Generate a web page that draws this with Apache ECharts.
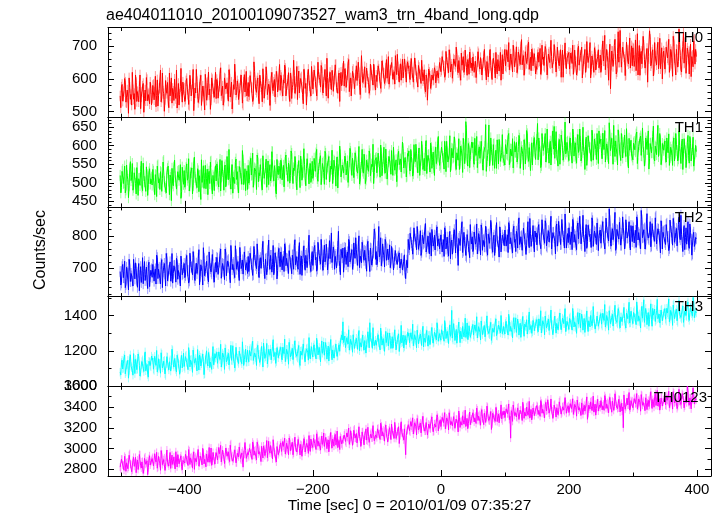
<!DOCTYPE html>
<html><head><meta charset="utf-8">
<script src="https://cdn.jsdelivr.net/npm/echarts@6/dist/echarts.min.js"></script>
<style>html,body{margin:0;padding:0;background:#fff}#c{width:724px;height:516px}</style>
</head><body><div id="c"></div>
<script>
const chartTitle = "ae404011010_20100109073527_wam3_trn_4band_long.qdp";
const xTitle = "Time [sec] 0 = 2010/01/09 07:35:27";
const yTitle = "Counts/sec";
const bandNames = ["TH0", "TH1", "TH2", "TH3", "TH0123"];
const bandColors = ["#ff0000", "#00ff00", "#0000ff", "#00ffff", "#ff00ff"];
// typical 1-sigma error-bar half length of each band (counts/sec), read from the light fringe
const bandErrors = [16, 15, 17, 24, 38];
// two interleaved sets of 1-s bins: set A at t=-501,-499,...,399 ; set B at t=-500,-498,...,398
const binStartA = -501, binStartB = -500, binStep = 2;
const xRange = [-520, 422];
const xMajor = [-400, -200, 0, 200, 400];
const xMinor = [-500, -300, -100, 100, 300];
const yRanges = [[483, 757], [435, 677], [612, 891], [1000, 1508], [2735, 3600]];
const yMajor = [[500, 600, 700], [450, 500, 550, 600, 650], [700, 800], [1000, 1200, 1400], [2800, 3000, 3200, 3400, 3600]];
const yMinorStep = [20, 10, 20, 100, 100];

const th0A = [
548,575,532,561,590,527,544,603,538,520,567,555,612,531,549,577,509,560,586,541,533,598,552,524,570,
541,583,560,515,597,549,572,530,618,555,537,566,589,512,548,603,571,534,559,627,543,520,576,562,590,
572,538,601,553,519,584,566,629,540,557,592,528,575,611,547,563,505,588,550,621,569,536,598,557,581,
540,587,563,616,549,578,532,600,571,553,628,545,590,512,568,606,559,583,537,597,575,520,613,562,548,
589,551,606,573,538,622,567,594,548,611,576,530,598,563,637,552,584,519,605,571,590,545,623,560,581,
565,604,548,587,632,571,596,553,618,540,583,611,569,638,592,557,601,575,524,615,586,562,629,579,548,
606,571,623,588,552,614,597,641,566,590,629,548,604,585,620,567,611,593,643,574,556,618,600,579,632,
578,617,594,648,561,603,586,629,570,612,595,651,583,556,622,600,637,574,609,589,566,627,598,645,581,
611,588,630,603,575,642,617,596,659,608,584,627,650,599,622,671,613,637,590,646,628,603,661,619,640,
632,605,648,619,590,664,627,603,641,615,586,622,600,571,612,535,630,608,583,617,598,625,589,611,602,
648,627,671,639,612,660,633,689,621,645,608,657,638,674,619,650,596,642,668,628,655,611,647,682,634,
625,661,638,604,652,677,630,646,612,669,641,597,655,632,690,618,645,664,603,637,659,624,681,642,615,
671,640,689,652,628,676,661,703,637,666,619,682,655,698,643,671,630,688,659,712,646,625,679,664,650,
638,674,651,693,627,660,641,699,655,617,682,646,668,632,705,653,624,671,640,689,658,605,676,649,663,
661,630,679,647,614,688,652,625,700,641,667,603,655,690,636,672,648,711,629,659,620,683,645,668,634,
673,641,716,655,628,690,649,667,570,685,638,702,660,622,744,651,680,635,697,659,613,688,646,725,664,
640,692,657,625,738,669,611,684,650,703,633,676,590,662,721,648,689,627,670,643,712,658,631,695,666,
679,635,701,658,620,690,647,730,664,612,688,653,705,628,676,742,650,617,694,661,683,607,672,716,645,
668];
const th0B = [
512,583,547,601,529,566,495,574,552,620,538,507,589,561,530,612,545,578,498,566,604,533,557,590,521,
580,536,608,549,517,571,627,542,563,501,595,556,534,618,575,526,562,599,540,511,586,553,632,529,568,
531,594,567,522,611,548,585,503,572,629,556,540,597,519,578,562,614,535,589,551,507,603,570,544,620,
598,541,577,634,556,520,603,569,588,532,615,559,508,582,645,551,594,537,571,612,526,590,560,623,547,
546,610,575,531,652,587,559,603,524,596,568,631,541,585,610,552,577,519,620,564,598,539,607,581,644,
611,562,597,642,548,583,619,531,603,574,657,556,592,537,624,587,606,552,629,571,520,613,595,560,638,
569,627,592,548,651,604,575,634,557,612,588,663,541,607,585,626,562,599,644,573,610,531,620,597,654,
631,574,612,659,586,548,623,601,567,640,596,619,552,671,589,615,574,633,600,556,645,611,581,628,566,
592,640,608,571,655,619,586,633,602,668,590,626,651,612,584,641,675,608,630,596,660,623,644,590,652,
640,598,662,621,584,648,607,575,635,612,657,594,628,560,601,585,620,571,612,596,634,588,624,603,650,
622,668,641,605,684,650,619,673,637,602,661,645,697,628,656,611,679,642,620,688,635,659,614,676,648,
667,620,654,601,683,638,665,612,648,690,627,653,606,672,641,598,663,632,681,615,657,639,596,674,645,
690,636,668,711,642,660,621,685,652,698,630,674,644,720,659,611,683,647,702,629,666,691,640,677,615,
629,681,655,614,703,667,636,690,612,676,650,718,634,662,685,621,697,647,672,605,688,658,710,631,669,
681,624,667,703,635,656,612,690,642,672,697,629,661,620,714,650,681,603,670,641,695,627,659,689,645,
620,690,655,733,628,671,596,706,642,684,660,721,615,678,651,748,636,697,667,610,712,654,687,633,701,
695,638,719,664,612,702,677,646,730,659,627,693,668,747,640,681,609,711,655,690,631,724,662,600,685,
630,697,664,721,641,683,608,716,659,690,636,752,672,621,699,648,727,657,684,615,706,668,637,721,690];

const th1A = [
520,488,536,501,473,548,509,492,557,515,480,527,498,541,466,512,530,489,553,504,477,522,495,538,510,
494,531,468,519,545,500,482,527,511,560,490,473,538,505,521,452,499,542,516,483,530,507,549,476,518,
533,497,551,514,478,526,540,493,569,508,487,532,519,455,501,546,511,484,537,523,498,558,470,515,529,
505,542,489,563,516,531,480,548,507,524,590,498,535,472,520,555,509,487,544,527,496,561,513,479,532,
547,509,566,522,488,540,531,575,503,519,552,481,537,510,564,526,495,549,515,583,505,533,470,528,545,
512,551,527,489,568,536,504,545,520,579,498,533,556,481,541,518,572,507,529,550,492,565,524,539,501,
558,521,547,580,512,539,566,495,552,528,585,509,543,571,518,537,498,561,530,554,486,548,575,516,540,
523,565,538,501,557,584,520,546,512,572,533,555,497,541,590,526,562,508,549,531,578,515,544,498,560,
568,532,557,515,580,541,596,526,552,508,571,545,587,520,559,538,503,576,549,564,527,592,540,555,518,
572,538,590,551,525,567,604,543,579,520,561,588,547,532,614,559,576,529,595,563,541,583,552,607,570,
551,596,570,537,585,612,556,578,530,593,567,624,548,581,561,536,599,575,620,552,665,563,606,541,579,
595,557,620,574,541,588,566,612,549,583,598,531,574,656,561,590,547,605,572,539,594,617,558,582,569,
560,603,578,627,549,591,572,540,611,583,556,598,620,565,587,535,604,576,632,558,590,569,548,612,581,
602,660,621,585,547,608,591,633,570,595,553,612,581,640,652,598,576,545,617,589,625,561,600,578,609,
571,610,588,553,630,597,565,617,582,645,559,601,590,536,623,575,612,594,558,627,586,606,563,598,640,
612,579,634,590,556,605,571,662,587,620,550,598,613,576,643,589,560,617,595,629,571,604,540,588,615,
570,607,589,631,552,598,620,574,648,583,561,612,590,537,606,581,625,566,599,576,655,588,613,562,594,
603,568,621,581,547,596,574,610,559,633,587,565,601,552,618,580,594,541,608,574,625,559,590,545,578,
584];
const th1B = [
473,531,498,545,481,519,460,537,506,552,488,524,470,540,511,493,558,479,520,502,543,466,529,497,515,
536,489,522,463,548,511,530,477,556,503,485,527,545,468,514,539,492,561,505,480,533,518,458,542,496,
488,541,507,565,492,528,470,553,515,499,538,476,521,562,504,485,547,512,468,531,556,494,520,479,546,
551,497,533,478,560,519,542,489,571,508,526,483,549,515,498,564,530,473,545,511,587,495,538,521,482,
499,556,521,580,508,537,482,566,527,549,494,573,512,541,488,559,530,505,584,518,546,476,563,522,539,
561,508,547,492,575,528,553,499,586,519,540,571,503,534,560,487,549,526,592,511,538,564,497,552,520,
512,566,531,590,504,549,573,518,556,496,579,538,561,502,545,588,523,557,491,570,535,599,516,548,527,
572,521,559,505,593,537,566,514,581,545,526,598,508,553,532,577,498,561,539,586,519,550,604,528,565,
527,580,544,602,519,566,538,591,510,557,575,523,548,596,534,562,505,585,551,529,610,540,568,516,579,
586,532,571,518,603,557,580,527,594,548,612,536,566,598,525,574,551,607,539,583,520,596,562,625,547,
542,598,565,612,530,583,556,627,548,591,570,605,536,577,619,552,588,528,603,566,640,545,596,574,610,
609,550,586,625,541,597,568,614,534,580,657,558,593,546,621,575,603,539,588,616,551,599,572,630,561,
548,601,575,633,556,590,619,542,583,609,565,628,539,597,577,616,551,641,570,595,533,608,586,622,563,
617,562,598,541,633,587,610,556,645,579,602,548,624,591,566,638,573,605,550,629,596,571,664,584,612,
560,621,593,645,572,608,553,630,589,612,568,650,581,603,547,627,596,575,642,561,618,590,633,552,606,
618,565,603,641,577,596,552,629,608,586,655,571,613,548,625,594,633,567,608,583,646,559,620,597,575,
562,611,584,637,551,603,626,573,598,545,621,590,640,566,607,582,653,559,595,618,571,633,549,606,588,
613,556,597,632,568,589,547,621,580,604,559,640,575,598,536,619,586,565,628,553,607,579,623,548,601];

const th2A = [
690,655,712,671,640,703,684,728,659,676,645,699,717,663,688,630,705,674,652,721,680,661,709,643,694,
672,710,689,651,733,697,668,715,640,702,683,746,661,694,720,675,654,708,688,731,666,699,645,712,684,
715,678,740,693,661,722,705,752,670,698,684,731,649,711,690,764,677,702,725,658,716,689,743,672,700,
688,731,702,746,669,715,691,760,677,723,703,655,738,712,684,770,697,721,662,734,709,682,751,695,718,
737,694,752,716,681,743,709,776,690,725,700,759,718,668,731,705,788,697,740,712,680,748,720,693,762,
705,748,726,690,763,731,700,755,719,683,742,770,711,736,697,780,724,678,751,715,740,702,766,728,690,
752,713,771,734,698,760,727,790,708,741,720,775,695,748,730,810,712,754,737,701,768,725,680,745,763,
719,762,740,705,783,731,758,712,748,795,726,769,702,744,781,735,756,715,773,739,690,761,722,750,808,
752,721,830,744,708,776,739,790,725,760,736,702,768,745,718,755,730,735,748,702,731,710,742,668,725,
790,758,812,771,745,800,782,830,759,788,740,803,776,822,751,785,766,811,738,797,779,757,818,770,792,
761,802,774,737,815,780,752,796,730,788,764,820,748,781,709,799,772,845,754,786,740,805,768,733,792,
798,760,819,783,745,808,771,835,756,790,767,812,741,794,778,826,750,803,765,842,782,735,811,776,795,
770,814,789,749,831,795,763,820,781,752,806,837,774,798,756,825,790,743,812,785,855,768,800,779,816,
810,771,836,794,757,822,790,848,770,803,782,829,760,811,795,745,838,786,817,774,852,799,763,825,788,
780,823,797,758,841,805,770,830,792,862,776,814,799,752,836,783,820,806,765,848,791,812,774,837,801,
819,781,845,800,763,827,795,885,777,810,789,835,756,821,798,843,772,808,826,760,851,794,816,780,833,
783,826,802,765,850,811,778,880,795,820,760,838,804,789,845,770,815,798,857,776,823,805,748,830,812,
818,774,840,799,762,828,793,855,781,811,770,836,797,865,780,812,758,826,801,772,838,790,745,812,775,
792];
const th2B = [
648,705,671,722,650,689,633,710,684,660,728,667,699,641,715,678,656,733,690,662,704,637,719,675,698,
712,660,698,741,668,703,652,727,689,715,645,731,676,698,660,746,684,709,657,722,693,670,738,680,702,
671,728,692,654,747,703,680,735,662,716,697,758,675,709,648,731,690,722,668,751,699,683,740,657,718,
734,681,719,760,690,712,665,748,703,727,682,771,696,718,671,743,710,688,765,699,726,677,752,708,684,
690,747,712,678,768,725,699,742,671,733,716,784,693,728,680,755,711,740,688,771,702,734,667,749,720,
751,695,737,776,708,729,684,760,715,741,697,789,722,706,753,681,738,712,770,694,746,725,803,703,731,
709,764,726,691,781,740,713,757,694,772,728,749,700,786,735,718,766,697,743,725,815,706,759,733,688,
765,712,751,790,720,744,697,779,731,758,709,801,738,717,770,725,752,691,784,739,763,710,746,822,728,
711,768,736,795,722,751,704,781,742,727,773,716,748,695,740,727,712,738,701,729,695,722,687,710,702,
765,809,780,744,826,791,758,805,772,817,750,795,781,839,762,800,745,788,821,769,803,756,829,784,761,
804,751,789,826,760,797,738,815,779,744,808,786,852,757,793,771,824,749,812,780,735,801,767,836,776,
752,813,775,838,761,799,742,824,787,767,831,754,806,778,849,763,795,740,817,785,770,829,751,803,790,
819,769,804,842,776,796,748,831,790,815,763,857,782,801,755,826,793,772,845,764,809,787,833,751,798,
773,828,790,761,851,805,778,839,766,817,796,862,757,812,784,830,769,846,798,775,822,787,869,763,808,
826,774,813,852,781,800,758,841,795,820,771,865,786,808,762,834,799,781,857,768,816,793,841,755,811,
778,831,795,760,856,812,785,848,769,823,800,874,763,818,791,839,772,860,801,778,826,795,845,757,813,
832,779,818,860,788,806,761,851,797,825,775,870,794,812,767,839,803,784,862,771,821,799,848,760,815,
781,836,798,755,850,815,772,841,793,824,767,859,789,806,752,833,796,775,845,762,812,741,804,768,796];

const th3A = [
1080,1135,1098,1160,1071,1120,1147,1089,1178,1105,1063,1129,1152,1094,1183,1117,1076,1140,1101,1165,1088,1124,1052,1138,1110,
1148,1097,1170,1119,1082,1156,1131,1190,1104,1142,1070,1127,1165,1093,1150,1118,1203,1109,1137,1081,1160,1123,1099,1175,1134,
1112,1168,1135,1094,1182,1149,1120,1205,1131,1158,1087,1146,1177,1115,1163,1139,1071,1154,1128,1191,1106,1145,1168,1122,1185,
1176,1130,1195,1152,1109,1188,1163,1217,1138,1170,1121,1183,1147,1230,1156,1112,1175,1141,1199,1160,1128,1186,1150,1210,1137,
1155,1203,1171,1230,1146,1189,1162,1218,1180,1135,1197,1170,1245,1158,1186,1127,1209,1175,1150,1226,1168,1192,1140,1201,1179,
1204,1162,1221,1185,1140,1210,1178,1249,1166,1195,1151,1232,1188,1170,1212,1131,1199,1176,1240,1160,1193,1217,1148,1183,1205,
1180,1222,1193,1155,1238,1201,1174,1215,1187,1251,1165,1209,1192,1143,1228,1184,1206,1160,1219,1195,1172,1235,1250,1290,1365,
1258,1219,1275,1240,1205,1266,1231,1292,1214,1253,1236,1282,1201,1247,1270,1225,1259,1188,1244,1268,1360,1281,1215,1254,1238,
1232,1277,1245,1206,1288,1257,1223,1270,1248,1303,1229,1261,1242,1215,1284,1253,1236,1275,1197,1262,1246,1290,1225,1258,1271,
1285,1247,1303,1266,1230,1292,1259,1318,1241,1280,1262,1306,1223,1274,1297,1252,1288,1236,1310,1270,1249,1295,1263,1327,1281,
1276,1320,1291,1255,1337,1298,1270,1315,1283,1430,1262,1307,1289,1244,1326,1295,1312,1268,1333,1300,1277,1359,1286,1310,1294,
1330,1290,1347,1311,1274,1338,1305,1370,1293,1322,1280,1355,1317,1299,1342,1260,1328,1306,1364,1287,1320,1346,1302,1335,1314,
1312,1356,1328,1290,1372,1339,1305,1361,1324,1388,1300,1347,1331,1277,1365,1318,1352,1336,1296,1378,1321,1344,1308,1360,1337,
1366,1325,1382,1343,1302,1371,1350,1398,1331,1361,1316,1385,1347,1292,1370,1339,1356,1320,1393,1348,1329,1377,1355,1310,1368,
1340,1384,1359,1318,1402,1365,1333,1390,1352,1415,1328,1376,1361,1305,1389,1347,1371,1336,1408,1356,1380,1324,1365,1399,1350,
1396,1352,1414,1373,1336,1401,1368,1428,1355,1390,1341,1419,1377,1362,1440,1348,1393,1366,1411,1384,1330,1405,1375,1358,1425,
1372,1418,1391,1349,1433,1399,1365,1424,1386,1490,1358,1407,1392,1340,1420,1378,1441,1395,1367,1429,1383,1409,1355,1437,1398,
1421,1380,1442,1405,1366,1430,1398,1460,1383,1417,1371,1449,1408,1390,1435,1362,1426,1401,1465,1388,1419,1445,1397,1480,1412,
1415];
const th3B = [
1065,1148,1102,1177,1081,1124,1046,1159,1113,1090,1185,1072,1133,1097,1168,1058,1121,1150,1084,1195,1108,1067,1142,1118,1171,
1160,1090,1136,1203,1098,1128,1074,1182,1117,1147,1061,1168,1109,1139,1086,1210,1123,1157,1095,1176,1130,1068,1151,1104,1187,
1101,1176,1132,1219,1110,1153,1079,1195,1144,1120,1208,1092,1165,1128,1183,1066,1149,1201,1115,1172,1137,1096,1225,1143,1160,
1193,1122,1169,1238,1131,1178,1096,1210,1150,1187,1113,1232,1145,1166,1104,1221,1160,1129,1199,1142,1252,1118,1181,1137,1205,
1139,1214,1170,1255,1152,1193,1118,1232,1182,1147,1226,1109,1201,1167,1243,1135,1188,1211,1156,1264,1174,1130,1219,1162,1197,
1221,1150,1198,1267,1163,1209,1125,1240,1178,1215,1142,1258,1185,1160,1231,1118,1202,1176,1249,1139,1212,1193,1276,1155,1224,
1166,1235,1191,1272,1178,1220,1139,1257,1203,1176,1248,1154,1228,1196,1265,1150,1211,1182,1239,1169,1221,1198,1270,1262,1248,
1285,1214,1259,1320,1226,1263,1193,1301,1240,1272,1209,1316,1247,1222,1290,1205,1268,1236,1309,1218,1277,1245,1332,1230,1261,
1221,1292,1246,1330,1233,1270,1198,1311,1255,1228,1302,1214,1281,1243,1320,1206,1264,1297,1239,1345,1251,1217,1288,1236,1305,
1301,1239,1280,1352,1251,1289,1218,1327,1266,1296,1231,1340,1273,1249,1316,1227,1290,1262,1333,1244,1307,1278,1360,1255,1298,
1261,1330,1289,1372,1270,1311,1242,1348,1296,1273,1355,1259,1322,1286,1364,1247,1305,1339,1280,1386,1294,1265,1343,1277,1318,
1350,1281,1325,1394,1297,1336,1262,1371,1315,1344,1276,1399,1318,1292,1362,1270,1331,1306,1382,1284,1347,1320,1401,1298,1339,
1296,1368,1325,1408,1311,1349,1274,1389,1333,1305,1381,1290,1357,1322,1396,1283,1341,1377,1318,1421,1328,1300,1373,1315,1355,
1378,1309,1356,1428,1326,1367,1292,1404,1347,1381,1313,1432,1350,1327,1398,1301,1363,1340,1415,1320,1386,1355,1440,1333,1372,
1322,1393,1350,1441,1336,1376,1300,1418,1362,1331,1409,1318,1384,1348,1427,1310,1369,1401,1343,1452,1356,1326,1398,1340,1381,
1412,1341,1386,1463,1352,1397,1318,1434,1374,1408,1337,1459,1378,1353,1425,1331,1393,1369,1447,1346,1415,1383,1476,1359,1404,
1355,1428,1385,1478,1368,1410,1330,1453,1396,1362,1441,1349,1418,1380,1467,1340,1403,1437,1375,1492,1389,1358,1432,1371,1414,
1440,1369,1415,1495,1380,1424,1345,1467,1408,1437,1362,1488,1406,1381,1455,1357,1420,1395,1478,1373,1446,1411,1503,1389,1426];

const th0123A = [
2820,2898,2841,2790,2910,2862,2805,2935,2850,2776,2887,2829,2915,2860,2798,2942,2836,2871,2760,2905,2848,2882,2815,2930,2866,
2903,2832,2950,2871,2810,2924,2858,2980,2845,2893,2789,2917,2866,2830,2962,2881,2847,2920,2804,2889,2941,2852,2908,2825,2885,
2874,2945,2891,2836,2978,2910,2858,2932,2799,2921,2884,2990,2860,2915,2842,2956,2897,2823,2940,2905,2868,3005,2881,2927,2850,
2960,2889,3010,2932,2871,2985,2918,2842,2970,2940,2896,3032,2915,2877,2951,2990,2862,2937,3015,2904,2958,2820,2945,2981,2910,
2940,3002,2951,2895,3040,2977,2920,3061,2948,2990,2874,2968,3025,2932,2999,2911,3070,2956,2982,2900,3018,2945,2870,3035,2962,
3035,2972,3068,3005,2948,3052,2990,3101,2979,3025,2940,3060,3012,2966,3088,3001,3040,2925,3028,3075,2985,3050,2953,3017,3092,
3030,3098,3049,2990,3125,3068,3015,3082,3040,3150,3001,3071,3055,2968,3109,3037,3090,3022,3136,3060,3008,3078,3117,3045,3085,
3130,3068,3150,3096,3041,3172,3110,3075,3188,3099,3054,3141,3115,3020,3160,3088,3127,3190,3071,3118,3040,3155,3102,3135,3080,
3125,3190,3141,3087,3218,3162,3110,3200,3145,3062,3178,3133,3235,3155,3098,3186,3120,3170,3048,3205,3152,3112,3190,2940,3168,
3230,3172,3260,3198,3140,3248,3215,3290,3180,3222,3151,3275,3207,3168,3251,3130,3236,3195,3280,3212,3165,3242,3188,3301,3226,
3278,3221,3310,3250,3190,3295,3262,3345,3230,3270,3205,3318,3247,3281,3160,3302,3259,3225,3330,3268,3212,3290,3240,3352,3264,
3280,3335,3296,3241,3372,3312,3260,3350,3288,3230,3325,3301,3398,3270,3318,3184,3340,3295,3262,3365,3305,3248,3331,3285,3358,
3362,3305,3390,3336,3280,3100,3345,3420,3318,3358,3296,3402,3332,3371,3270,3390,3350,3312,3415,3345,3293,3376,3328,3408,3355,
3350,3405,3368,3310,3438,3380,3332,3425,3362,3470,3341,3396,3375,3290,3418,3360,3393,3326,3450,3372,3345,3412,3357,3430,3381,
3412,3358,3440,3388,3330,3425,3395,3468,3372,3410,3320,3452,3394,3361,3436,3282,3418,3380,3460,3402,3351,3428,3385,3475,3400,
3395,3452,3412,3368,3490,3430,3380,3465,3420,3350,3448,3405,3512,3426,3390,3470,3415,3361,3200,3438,3398,3485,3420,3370,3462,
3460,3408,3492,3435,3380,3478,3445,3520,3418,3462,3366,3488,3440,3405,3505,3431,3472,3398,3530,3452,3410,3480,3425,3500,3448,
3478,3420,3510,3452,3395,3495,3462,3548,3440,3480,3385,3512,3458,3425,3530,3466,3410,3500,3600,3445,3488,3382,3475,3520,3462,
3470];
const th0123B = [
2801,2897,2838,2925,2780,2870,2822,2951,2846,2793,2915,2858,2767,2889,2830,2940,2812,2876,2795,2920,2862,2748,2903,2841,2884,
2915,2836,2892,2963,2819,2881,2790,2945,2868,2910,2826,2986,2853,2897,2808,2937,2874,2840,2969,2822,2902,2863,2930,2795,2888,
2860,2941,2889,2990,2846,2920,2811,2968,2905,2871,2956,2830,2928,2884,3002,2852,2915,2947,2868,3010,2893,2838,2962,2877,2925,
2978,2892,2950,3030,2883,2941,2855,3005,2925,2968,2874,3046,2931,2901,2987,2862,2954,2920,3021,2889,2975,2940,3058,2905,2960,
2922,3011,2960,3062,2935,2988,2890,3040,2971,2930,3022,2908,2995,2952,3077,2918,2980,3029,2946,3085,2963,2900,3019,2941,2999,
3055,2960,3021,3100,2975,3038,2940,3081,3012,3060,2955,3110,3004,2980,3070,2938,3032,3001,3095,2966,3049,3015,3125,2972,3043,
3010,3096,3048,3142,3022,3079,2985,3121,3061,3020,3107,2998,3083,3041,3155,3004,3069,3112,3035,3168,3052,2990,3101,3027,3088,
3148,3052,3112,3198,3070,3129,3031,3176,3100,3145,3050,3210,3092,3068,3163,3035,3120,3081,3205,3059,3137,3102,3221,3075,3131,
3105,3196,3143,3244,3120,3178,3071,3226,3155,3114,3201,3086,3170,3131,3252,3097,3162,3210,3124,3258,3147,3083,3199,3125,3180,
3248,3160,3215,3296,3175,3231,3130,3280,3201,3246,3152,3310,3192,3168,3262,3140,3222,3189,3305,3161,3237,3207,3325,3170,3231,
3212,3301,3250,3346,3225,3279,3178,3330,3261,3219,3308,3195,3283,3240,3362,3203,3268,3316,3235,3370,3256,3191,3304,3230,3287,
3345,3256,3311,3390,3270,3328,3225,3375,3297,3342,3251,3409,3290,3266,3357,3237,3318,3284,3396,3259,3333,3303,3421,3268,3327,
3298,3383,3335,3430,3310,3365,3262,3413,3347,3305,3392,3280,3369,3327,3446,3291,3354,3400,3320,3455,3341,3276,3391,3317,3372,
3415,3328,3380,3462,3340,3395,3296,3445,3368,3412,3322,3478,3362,3337,3428,3303,3387,3353,3466,3331,3402,3370,3491,3340,3398,
3347,3433,3385,3480,3360,3413,3312,3461,3395,3352,3440,3328,3417,3373,3498,3338,3402,3450,3366,3505,3388,3322,3436,3361,3420,
3462,3373,3428,3510,3386,3444,3345,3493,3415,3458,3368,3528,3410,3385,3475,3352,3436,3401,3517,3379,3450,3420,3540,3390,3445,
3393,3481,3432,3530,3407,3463,3360,3512,3444,3400,3489,3375,3465,3420,3548,3386,3451,3501,3415,3560,3438,3370,3487,3409,3468,
3500,3410,3466,3552,3425,3482,3380,3535,3451,3498,3405,3571,3446,3420,3515,3392,3475,3441,3560,3418,3490,3462,3585,3430,3483];

const bandSetsA = [th0A, th1A, th2A, th3A, th0123A];
const bandSetsB = [th0B, th1B, th2B, th3B, th0123B];

// ---------- layout ----------
const FONT = "Liberation Sans";
const gridLeft = 108, gridRight = 13, gridTop0 = 27.5, panelH = 89.7;
const tickMajorLen = 6, tickMinorLen = 3.5;
const axisColor = "#000";
const minusFmt = v => String(v).replace("-", "\u2212");
const plainFmt = v => String(v);

function minorTicks(range, step) {
  const out = [];
  for (let v = Math.ceil(range[0] / step) * step; v <= range[1]; v += step) out.push(v);
  return out;
}
function toPairs(vals, start) { return vals.map((v, k) => [start + k * binStep, v]); }

const grids = [], xAxes = [], yAxes = [], series = [], graphics = [];
for (let i = 0; i < 5; i++) {
  grids.push({ left: gridLeft, right: gridRight, top: gridTop0 + i * panelH, height: panelH, containLabel: false });
  const isLast = i === 4;
  const mkX = (pos, ticks, len, showLine, showLabel, extra) => Object.assign({
    type: "value", gridIndex: i, min: xRange[0], max: xRange[1], position: pos,
    axisLine: { show: showLine, onZero: false, lineStyle: { color: axisColor, width: 1 } },
    axisTick: { show: true, inside: true, length: len, customValues: ticks, lineStyle: { color: axisColor, width: 1 } },
    axisLabel: { show: showLabel, customValues: xMajor, margin: 6, fontSize: 15, color: "#000", fontFamily: FONT, formatter: minusFmt },
    splitLine: { show: false }
  }, extra || {});
  xAxes.push(mkX("bottom", xMajor, tickMajorLen, true, isLast, isLast ? {
    name: xTitle, nameLocation: "middle", nameGap: 21,
    nameTextStyle: { fontSize: 15.5, color: "#000", fontFamily: FONT, verticalAlign: "top" }
  } : null));
  xAxes.push(mkX("bottom", xMinor, tickMinorLen, false, false));
  xAxes.push(mkX("top", xMajor, tickMajorLen, true, false));
  xAxes.push(mkX("top", xMinor, tickMinorLen, false, false));

  const yr = yRanges[i];
  const mnr = minorTicks(yr, yMinorStep[i]).filter(v => yMajor[i].indexOf(v) < 0);
  const mkY = (pos, ticks, len, showLine, showLabel) => ({
    type: "value", gridIndex: i, min: yr[0], max: yr[1], position: pos,
    axisLine: { show: showLine, onZero: false, lineStyle: { color: axisColor, width: 1 } },
    axisTick: { show: true, inside: true, length: len, customValues: ticks, lineStyle: { color: axisColor, width: 1 } },
    axisLabel: { show: showLabel, customValues: yMajor[i], margin: 11, fontSize: 15, color: "#000", fontFamily: FONT, formatter: plainFmt },
    splitLine: { show: false }
  });
  yAxes.push(mkY("left", yMajor[i], tickMajorLen, true, true));
  yAxes.push(mkY("left", mnr, tickMinorLen, false, false));
  yAxes.push(mkY("right", yMajor[i], tickMajorLen, true, false));
  yAxes.push(mkY("right", mnr, tickMinorLen, false, false));

  const pts = toPairs(bandSetsA[i], binStartA).concat(toPairs(bandSetsB[i], binStartB)).sort((a, b) => a[0] - b[0]);
  const err = bandErrors[i], col = bandColors[i];
  // light error bars
  series.push({
    type: "custom", name: bandNames[i] + " err", xAxisIndex: i * 4, yAxisIndex: i * 4,
    data: pts, clip: true, silent: true, animation: false, z: 1,
    renderItem: (params, api) => {
      const t = api.value(0), v = api.value(1);
      const p1 = api.coord([t, v - err]), p2 = api.coord([t, v + err]);
      return { type: "line", shape: { x1: p1[0], y1: p1[1], x2: p2[0], y2: p2[1] },
               style: { stroke: col, opacity: 0.4, lineWidth: 1 } };
    }
  });
  series.push({
    type: "line", name: bandNames[i], xAxisIndex: i * 4, yAxisIndex: i * 4,
    data: pts, showSymbol: false, symbol: "none", sampling: null, z: 2,
    lineStyle: { color: col, width: 1 }, itemStyle: { color: col },
    animation: false, silent: true
  });

  graphics.push({
    type: "text",
    x: isLast ? 707 : 703, y: gridTop0 + i * panelH + (isLast ? 12 : 10.5),
    style: { text: bandNames[i], fill: "#000", font: "15px '" + FONT + "'", textAlign: "right", textVerticalAlign: "middle" },
    z: 100
  });
}

graphics.push({
  type: "text", x: 106, y: 16,
  style: { text: chartTitle, fill: "#000", font: "16px '" + FONT + "'", textAlign: "left", textVerticalAlign: "middle" }
});
graphics.push({
  type: "text", x: 41, y: 250, rotation: Math.PI / 2,
  style: { text: yTitle, fill: "#000", font: "16px '" + FONT + "'", textAlign: "center", textVerticalAlign: "middle" }
});

const chart = echarts.init(document.getElementById("c"), null, { renderer: "canvas" });
chart.setOption({
  animation: false,
  backgroundColor: "#fff",
  grid: grids, xAxis: xAxes, yAxis: yAxes, series: series, graphic: graphics
});
</script>
</body></html>
